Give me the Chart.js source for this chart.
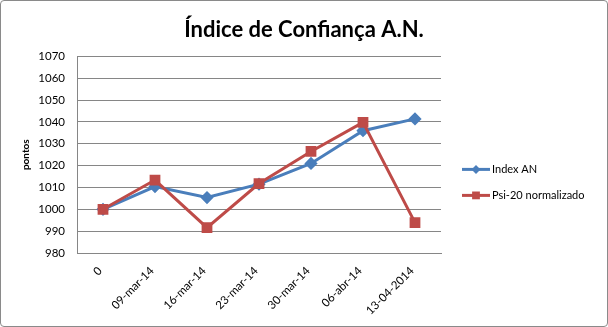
<!DOCTYPE html>
<html>
<head>
<meta charset="utf-8">
<script src="https://cdn.jsdelivr.net/npm/chart.js@4.4.1/dist/chart.umd.min.js"></script>
<style>
  html, body { margin: 0; padding: 0; background: #fff; }
  #wrap { position: relative; width: 606px; height: 325px; border: 1px solid #8a8a8a; border-radius: 4px; overflow: hidden; }
  canvas { display: block; }
</style>
</head>
<body>
<div id="wrap"><canvas id="c" width="606" height="325"></canvas></div>
<script>
// Weekly dates of the confidence index
const categories = ['0', '09-mar-14', '16-mar-14', '23-mar-14', '30-mar-14', '06-abr-14', '13-04-2014'];
// Index AN, base 1000
const indexAN = [1000, 1010.4, 1005.4, 1011.5, 1021.0, 1036.0, 1041.4];
// PSI-20 rescaled to the same base
const psi20Norm = [1000, 1013.4, 991.6, 1011.8, 1026.5, 1039.8, 993.9];
// Value axis ticks
const yTicks = [980, 990, 1000, 1010, 1020, 1030, 1040, 1050, 1060, 1070];

const FONT = 'Lato, "Open Sans", "Liberation Sans", sans-serif';
const BLUE = '#4a7ebb';
const RED = '#be4b48';

// Side legend: a layout box on the right listing each series with
// a short line segment and its marker, built from the datasets.
const sideLegend = {
  id: 'sideLegend',
  beforeInit(chart) {
    const box = {
      position: 'right',
      weight: 1000,
      fullSize: true,
      options: {},
      left: 0, top: 0, right: 0, bottom: 0, width: 0, height: 0,
      isHorizontal() { return false; },
      update(maxWidth, maxHeight) { this.width = 166; this.height = maxHeight; },
      draw() {
        const ctx = chart.ctx;
        const area = chart.chartArea;
        const x0 = this.left + 21;
        let y = area.top + 113;
        ctx.save();
        ctx.font = '11px ' + FONT;
        ctx.textBaseline = 'middle';
        ctx.textAlign = 'left';
        chart.data.datasets.forEach((ds) => {
          ctx.strokeStyle = ds.borderColor;
          ctx.lineWidth = ds.borderWidth;
          ctx.beginPath();
          ctx.moveTo(x0, y);
          ctx.lineTo(x0 + 28, y);
          ctx.stroke();
          ctx.fillStyle = ds.backgroundColor;
          Chart.helpers.drawPoint(ctx, {
            pointStyle: ds.pointStyle,
            radius: ds.pointRadius,
            rotation: 0,
            borderWidth: 0
          }, x0 + 14, y);
          ctx.fillStyle = '#000';
          ctx.fillText(ds.label, x0 + 30, y);
          y += 26;
        });
        ctx.restore();
      }
    };
    Chart.layouts.addBox(chart, box);
  }
};

new Chart(document.getElementById('c'), {
  type: 'line',
  data: {
    labels: categories,
    datasets: [
      {
        label: 'Index AN',
        data: indexAN,
        borderColor: BLUE,
        backgroundColor: BLUE,
        borderWidth: 3,
        pointStyle: 'rectRot',
        pointRadius: 4.5,
        pointHoverRadius: 4.5,
        tension: 0,
        order: 2
      },
      {
        label: 'Psi-20 normalizado',
        data: psi20Norm,
        borderColor: RED,
        backgroundColor: RED,
        borderWidth: 3,
        pointStyle: 'rect',
        pointRadius: 5.5,
        pointHoverRadius: 5.5,
        tension: 0,
        order: 1
      }
    ]
  },
  plugins: [sideLegend],
  options: {
    responsive: false,
    animation: false,
    layout: { padding: 0 },
    plugins: {
      title: {
        display: true,
        text: 'Índice de Confiança A.N.',
        color: '#000',
        font: { family: FONT, size: 22, weight: 'bold' },
        padding: { top: 16, bottom: 13 }
      },
      legend: { display: false },
      tooltip: { enabled: false }
    },
    scales: {
      x: {
        offset: true,
        grid: { display: false, drawTicks: false },
        border: { display: true, color: '#868686', width: 1 },
        ticks: {
          color: '#000',
          font: { family: FONT, size: 11.5 },
          minRotation: 45,
          maxRotation: 45,
          autoSkip: false,
          padding: 11,
          labelOffset: -3
        },
        afterFit: (s) => { s.height = 73; }
      },
      y: {
        min: 980,
        max: 1070,
        afterBuildTicks: (s) => { s.ticks = yTicks.map(v => ({ value: v })); },
        grid: { color: '#868686', lineWidth: 1, drawTicks: false },
        border: { display: true, color: '#868686', width: 1 },
        ticks: {
          color: '#000',
          font: { family: FONT, size: 11.5 },
          padding: 12,
          callback: (v) => String(v)
        },
        title: {
          display: true,
          text: 'pontos',
          color: '#000',
          font: { family: FONT, size: 10, weight: 'bold' },
          padding: { top: 19, bottom: 4 }
        },
        afterFit: (s) => { s.width = 76; }
      }
    }
  }
});
</script>
</body>
</html>
